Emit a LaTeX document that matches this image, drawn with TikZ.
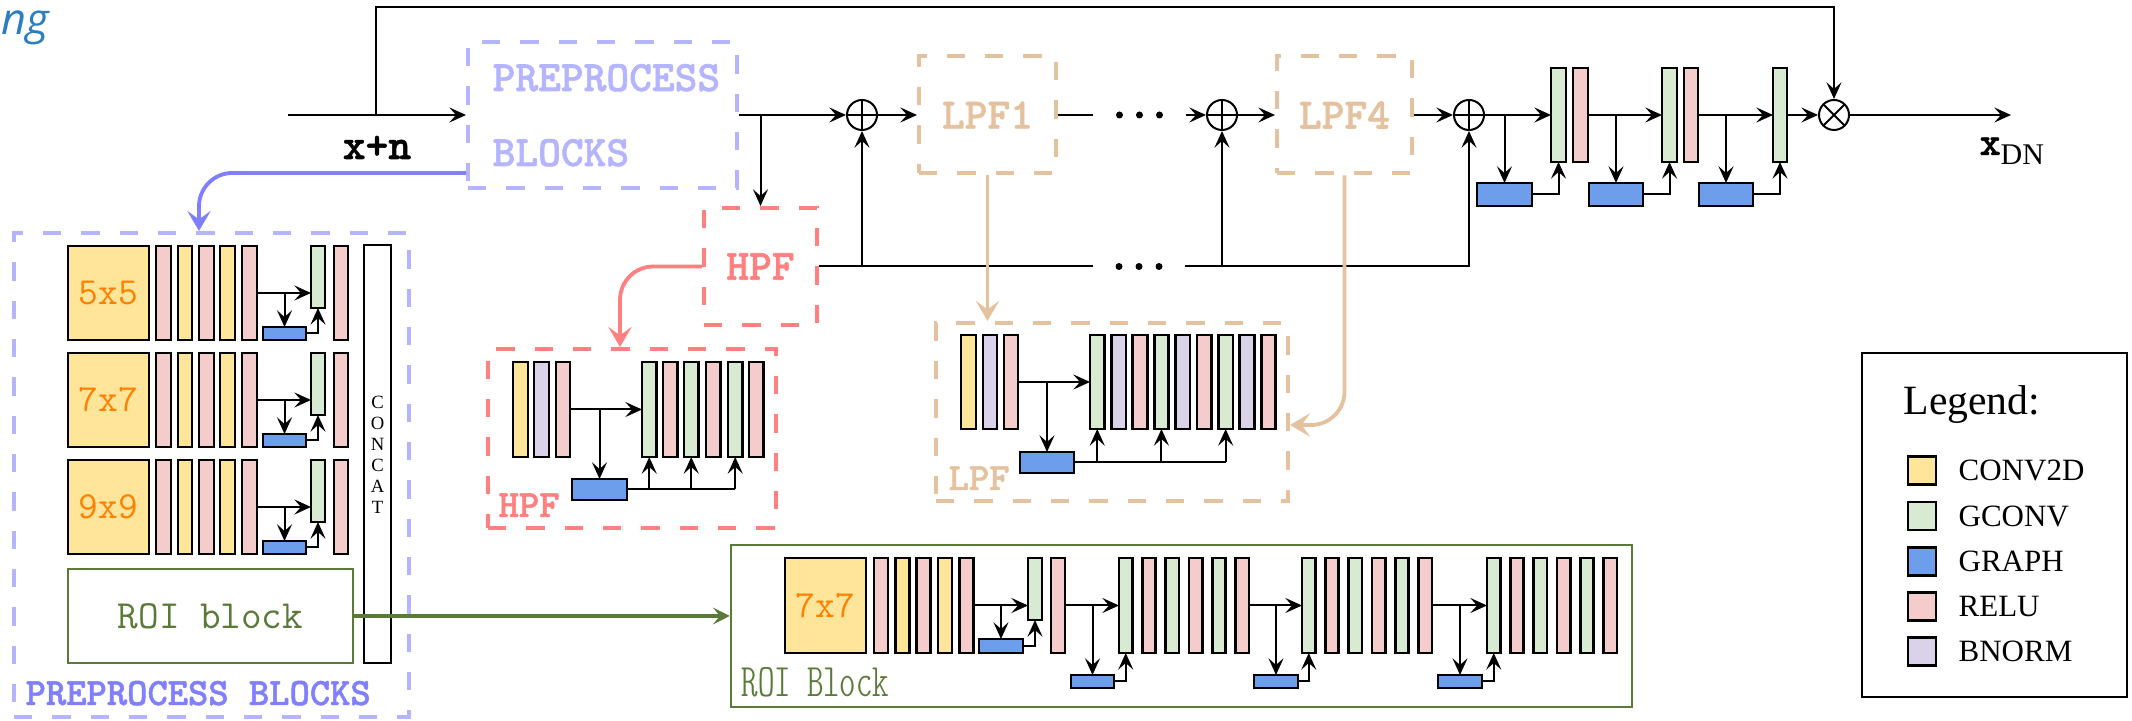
\documentclass[tikz,border=0pt]{standalone}
\usepackage{fontspec}
\newfontfamily\timesf{Liberation Serif}
\newfontfamily\ngfont{Open Sans}
\newfontfamily\heavytt{lmmonolt10-bold.otf}[FakeBold=1.3]
\usetikzlibrary{arrows.meta,fit,calc}
\definecolor{convc}{HTML}{FFE599}
\definecolor{gconvc}{HTML}{D9EAD3}
\definecolor{graphc}{HTML}{6D9EEB}
\definecolor{reluc}{HTML}{F4CCCC}
\definecolor{bnormc}{HTML}{D9D2E9}
\definecolor{prec}{HTML}{B4B4FF}
\definecolor{purc}{HTML}{8080FF}
\definecolor{hpfc}{HTML}{FF8080}
\definecolor{lpfc}{HTML}{E5C29F}
\definecolor{roic}{HTML}{5B7A3A}
\definecolor{orc}{HTML}{FF8000}
\definecolor{ngc}{HTML}{2D7DC3}
\tikzset{
  ln/.style={line width=0.6pt},
  arr/.style={ln, -{Stealth[length=5pt,width=4.5pt,inset=2pt]}},
  blkbar/.style={draw, line width=0.8pt, inner sep=0pt, outer sep=0pt},
  dbox/.style={draw, line width=1.2pt, dash pattern=on 5.5pt off 6pt, inner sep=0pt},
  fatarr/.style={line width=1.15pt, rounded corners=10pt, -{Stealth[length=6pt,width=7pt,inset=2.5pt]}},
  sumnode/.style={circle, draw, line width=0.6pt, minimum size=9pt, inner sep=0pt,
    path picture={\draw[line width=0.6pt] (path picture bounding box.north) -- (path picture bounding box.south)
      (path picture bounding box.west) -- (path picture bounding box.east);}},
  mulnode/.style={circle, draw, line width=0.6pt, minimum size=9pt, inner sep=0pt,
    path picture={\draw[line width=0.6pt] (path picture bounding box.north west) -- (path picture bounding box.south east)
      (path picture bounding box.north east) -- (path picture bounding box.south west);}},
  bigtt/.style={font=\heavytt\fontsize{13}{13}\selectfont, inner sep=0pt},
  midtt/.style={font=\heavytt\fontsize{11.6}{11.6}\selectfont, inner sep=0pt},
  convlbl/.style={font=\fontsize{11.5}{11.5}\selectfont\ttfamily, text=orc, inner sep=0pt},
}
\begin{document}
\begin{tikzpicture}[x=0.3pt,y=-0.3pt]
\useasboundingbox (0,0) rectangle (2132,721);

% corner fragment
\node[anchor=base west, inner sep=0pt, text=ngc, font=\ngfont\itshape\fontsize{13}{13}\selectfont] (ng) at (1,35) {ng};

% ---------------- top chain ----------------
\coordinate (in) at (288,115);
\coordinate (fb) at (376,115);
\coordinate (fbtop) at (376,7);
\coordinate (out) at (2011,115);
\node[dbox, draw=prec, fit={(468,42) (737,188)}] (pre) {};
\node[bigtt, text=prec, anchor=base west] (pret1) at (492,91) {PREPROCESS};
\node[bigtt, text=prec, anchor=base west] (pret2) at (492,166) {BLOCKS};
\node[bigtt, anchor=base] (xn) at (377,159) {x+n};

\node[sumnode] (add1) at (862,115) {};
\node[sumnode] (add2) at (1222,115) {};
\node[sumnode] (add3) at (1469,115) {};
\node[mulnode] (mul) at (1834,115) {};

\node[dbox, draw=lpfc, fit={(919,56.5) (1056,173.5)}] (lpf1) {};
\node[bigtt, text=lpfc] (lpf1t) at (lpf1.center) {LPF1};
\node[dbox, draw=lpfc, fit={(1277,56.5) (1412,173.5)}] (lpf4) {};
\node[bigtt, text=lpfc] (lpf4t) at (lpf4.center) {LPF4};
\node[dbox, draw=hpfc, fit={(704,208) (817,325)}] (hpf) {};
\node[bigtt, text=hpfc] (hpft) at (hpf.center) {HPF};

\node[inner sep=0pt, minimum width=27.3pt, minimum height=4pt] (dots1) at (1139.5,115) {};
\node[inner sep=0pt, minimum width=27pt, minimum height=4pt] (dots2) at (1139,266.5) {};
\foreach \dx in {-20,0,20}{
  \fill ($(dots1)+(\dx,0)$) circle (1.05pt);
  \fill ($(dots2)+(\dx,0)$) circle (1.05pt);
}

\draw[arr] (in) -- (pre.west);
\draw[arr] (fb) -- (fbtop) -| (mul.north);
\draw[arr] (pre.east) -- (add1.west);
\draw[arr] (pre.east -| hpf.north) -- (hpf.north);
\draw[arr] (add1.east) -- (lpf1.west);
\draw[ln] (lpf1.east) -- (dots1.west);
\draw[arr] (dots1.east) -- (add2.west);
\draw[arr] (add2.east) -- (lpf4.west);
\draw[arr] (lpf4.east) -- (add3.west);
\draw[ln] (hpf.east) -- (dots2.west);
\draw[arr] (dots2.east) -| (add3.south);
\draw[arr] (hpf.east -| add1.south) -- (add1.south);
\draw[arr] (dots2.east -| add2.south) -- (add2.south);

% right-hand graph layers
\node[blkbar, fill=gconvc, fit={(1551,68) (1566,162)}] (tg1) {};
\node[blkbar, fill=reluc, fit={(1573,68) (1588,162)}] (tp1) {};
\node[blkbar, fill=gconvc, fit={(1662,68) (1677,162)}] (tg2) {};
\node[blkbar, fill=reluc, fit={(1684,68) (1698,162)}] (tp2) {};
\node[blkbar, fill=gconvc, fit={(1773,68) (1787,162)}] (tg3) {};
\node[blkbar, fill=graphc, fit={(1477,183) (1532,206)}] (tgr1) {};
\node[blkbar, fill=graphc, fit={(1589,183) (1643,206)}] (tgr2) {};
\node[blkbar, fill=graphc, fit={(1699,183) (1753,206)}] (tgr3) {};
\draw[arr] (add3.east) -- (tg1.west);
\draw[arr] (add3.east -| tgr1.north) -- (tgr1.north);
\draw[arr] (tgr1.east) -| (tg1.south);
\draw[arr] (tp1.east) -- (tg2.west);
\draw[arr] (tp1.east -| tgr2.north) -- (tgr2.north);
\draw[arr] (tgr2.east) -| (tg2.south);
\draw[arr] (tp2.east) -- (tg3.west);
\draw[arr] (tp2.east -| tgr3.north) -- (tgr3.north);
\draw[arr] (tgr3.east) -| (tg3.south);
\draw[arr] (tg3.east) -- (mul.west);
\draw[arr] (mul.east) -- (out);
\node[anchor=base west, inner sep=0pt] (xdn) at (1979,155)
  {{\heavytt\fontsize{12}{12}\selectfont x}\raisebox{-3pt}{\fontsize{9}{9}\selectfont\timesf DN}};

% ---------------- preprocess blocks ----------------
\node[dbox, draw=prec, fit={(14,233) (409,717)}] (ppbox) {};
\foreach \r/\tp/\lab in {1/246/5x5,2/353/7x7,3/460/9x9}{
  \pgfmathsetmacro\ybot{\tp+94}
  \pgfmathsetmacro\ygr{\tp+62}
  \pgfmathsetmacro\ygh{\tp+81}
  \node[blkbar, fill=convc, fit={(68,\tp) (149,\ybot)}] (pc\r) {};
  \node[convlbl] (pcl\r) at (pc\r.center) {\lab};
  \node[blkbar, fill=reluc, fit={(156,\tp) (171,\ybot)}] (pa\r) {};
  \node[blkbar, fill=convc, fit={(178,\tp) (192,\ybot)}] (pb\r) {};
  \node[blkbar, fill=reluc, fit={(199,\tp) (214,\ybot)}] (pd\r) {};
  \node[blkbar, fill=convc, fit={(220,\tp) (235,\ybot)}] (pe\r) {};
  \node[blkbar, fill=reluc, fit={(242,\tp) (257,\ybot)}] (pf\r) {};
  \node[blkbar, fill=gconvc, fit={(311,\tp) (325,\ygr)}] (pg\r) {};
  \node[blkbar, fill=graphc, fit={(263,\ygh) (306,\ybot)}] (ph\r) {};
  \node[blkbar, fill=reluc, fit={(334,\tp) (348,\ybot)}] (pi\r) {};
  \draw[arr] (pf\r.east) -- (pf\r.east -| pg\r.west);
  \draw[arr] (pf\r.east -| ph\r.north) -- (ph\r.north);
  \draw[arr] (ph\r.east) -| (pg\r.south);
}
\node[blkbar, fill=white, fit={(364,245) (391,663)}] (concat) {};
\node[font=\timesf\fontsize{5.6}{6.3}\selectfont, align=center, inner sep=0pt] (concatt) at (377.5,454.5) {C\\O\\N\\C\\A\\T};
\node[draw=roic, line width=0.75pt, inner sep=0pt, fit={(68,569) (353,663)}] (roi) {};
\node[font=\fontsize{12}{12}\selectfont\ttfamily, text=roic, inner sep=0pt] (roit) at (roi.center) {ROI block};
\node[midtt, text=purc, anchor=base west] (ppt) at (25,705) {PREPROCESS BLOCKS};
\draw[fatarr, purc] ([yshift=-17.4pt]pre.west) -| ([xshift=-3.75pt]ppbox.north);

% ---------------- HPF detail ----------------
\node[dbox, draw=hpfc, fit={(488,349) (776,528)}] (hpfbox) {};
\node[blkbar, fill=convc, fit={(513,362) (528,457)}] (hy) {};
\node[blkbar, fill=bnormc, fit={(534,362) (549,457)}] (hb) {};
\node[blkbar, fill=reluc, fit={(556,362) (570,457)}] (hr) {};
\foreach \i/\xa/\c in {1/642/gconvc,2/663/reluc,3/684/gconvc,4/706/reluc,5/728/gconvc,6/749/reluc}{
  \node[blkbar, fill=\c, fit={(\xa,362) (\xa+14.5,457)}] (hq\i) {};
}
\node[blkbar, fill=graphc, fit={(572,479) (627,500)}] (hgr) {};
\draw[arr] (hr.east) -- (hq1.west);
\draw[arr] (hr.east -| hgr.north) -- (hgr.north);
\draw[ln] (hgr.east) -- (hgr.east -| hq5.south);
\foreach \i in {1,3,5}{\draw[arr] (hgr.east -| hq\i.south) -- (hq\i.south);}
\node[midtt, text=hpfc, anchor=base west] (hpflbl) at (498,517) {HPF};
\draw[fatarr, hpfc] (hpf.west) -| ([xshift=-3.6pt]hpfbox.north);

% ---------------- LPF detail ----------------
\node[dbox, draw=lpfc, fit={(936,323) (1288,501)}] (lpfbox) {};
\node[blkbar, fill=convc, fit={(961,335) (976,429)}] (ly) {};
\node[blkbar, fill=bnormc, fit={(983,335) (997,429)}] (lb) {};
\node[blkbar, fill=reluc, fit={(1004,335) (1018,429)}] (lr) {};
\foreach \i/\c in {1/gconvc,2/bnormc,3/reluc,4/gconvc,5/bnormc,6/reluc,7/gconvc,8/bnormc,9/reluc}{
  \pgfmathsetmacro\xx{1090+(\i-1)*21.4}
  \node[blkbar, fill=\c, fit={(\xx,335) (\xx+14.5,429)}] (lq\i) {};
}
\node[blkbar, fill=graphc, fit={(1020,452) (1074,473)}] (lgr) {};
\draw[arr] (lr.east) -- (lq1.west);
\draw[arr] (lr.east -| lgr.north) -- (lgr.north);
\draw[ln] (lgr.east) -- (lgr.east -| lq7.south);
\foreach \i in {1,4,7}{\draw[arr] (lgr.east -| lq\i.south) -- (lq\i.south);}
\node[midtt, text=lpfc, anchor=base west] (lpflbl) at (948,490) {LPF};
\draw[fatarr, lpfc] (lpf1.south) -- (lpf1.south |- lpfbox.north);
\draw[fatarr, lpfc] (lpf4.south) |- ([yshift=-3.9pt]lpfbox.east);

% ---------------- ROI block detail ----------------
\node[draw=roic, line width=0.75pt, inner sep=0pt, fit={(731,545) (1632,707)}] (roibig) {};
\node[blkbar, fill=convc, fit={(785,558) (866,653)}] (rc) {};
\node[convlbl] (rct) at (rc.center) {7x7};
\foreach \i/\c in {1/reluc,2/convc,3/reluc,4/convc,5/reluc}{
  \pgfmathsetmacro\xx{874+(\i-1)*21.3}
  \node[blkbar, fill=\c, fit={(\xx,558) (\xx+14,653)}] (rr\i) {};
}
\node[blkbar, fill=gconvc, fit={(1028,558) (1042,620)}] (rg0) {};
\node[blkbar, fill=reluc, fit={(1051,558) (1065,653)}] (rp0) {};
\node[blkbar, fill=graphc, fit={(979,639) (1023,653)}] (rgr0) {};
\foreach \g/\gx in {a/1119,b/1302,c/1487}{
  \foreach \i/\c in {1/gconvc,2/reluc,3/gconvc,4/reluc,5/gconvc,6/reluc}{
    \pgfmathsetmacro\xx{\gx+(\i-1)*23.3}
    \node[blkbar, fill=\c, fit={(\xx,558) (\xx+13.5,653)}] (r\g\i) {};
  }
}
\node[blkbar, fill=graphc, fit={(1071,675) (1114,688)}] (rgra) {};
\node[blkbar, fill=graphc, fit={(1254,675) (1298,688)}] (rgrb) {};
\node[blkbar, fill=graphc, fit={(1438,675) (1482,688)}] (rgrc) {};
\draw[arr] (rr5.east) -- (rg0.west |- rr5.east);
\draw[arr] (rr5.east -| rgr0.north) -- (rgr0.north);
\draw[arr] (rgr0.east) -| (rg0.south);
\draw[arr] (rp0.east) -- (ra1.west);
\draw[arr] (rp0.east -| rgra.north) -- (rgra.north);
\draw[arr] (rgra.east) -| (ra1.south);
\draw[arr] (ra6.east) -- (rb1.west);
\draw[arr] (ra6.east -| rgrb.north) -- (rgrb.north);
\draw[arr] (rgrb.east) -| (rb1.south);
\draw[arr] (rb6.east) -- (rc1.west);
\draw[arr] (rb6.east -| rgrc.north) -- (rgrc.north);
\draw[arr] (rgrc.east) -| (rc1.south);
\node[anchor=base west, inner sep=0pt, text=roic, font=\fontsize{14}{14}\selectfont\ttfamily\fontseries{lc}\selectfont] (roilbl) at (741,697) {ROI Block};
\draw[line width=1.2pt, roic, -{Stealth[length=5pt,width=5pt,inset=2pt]}] (roi.east) -- (roi.east -| roibig.west);

% ---------------- legend ----------------
\node[draw, line width=0.8pt, inner sep=0pt, fit={(1862,353) (2127,697)}] (legend) {};
\node[anchor=base west, inner sep=0pt, font=\timesf\fontsize{12.5}{12.5}\selectfont] (legt) at (1903,415) {Legend:};
\foreach \i/\c/\lab/\yy in {1/convc/CONV2D/470.5,2/gconvc/GCONV/516,3/graphc/GRAPH/561.5,4/reluc/RELU/606.5,5/bnormc/BNORM/651.5}{
  \node[blkbar, fill=\c, minimum size=8.4pt] (sw\i) at (1922,\yy) {};
  \node[anchor=west, inner sep=0pt, font=\timesf\fontsize{9.3}{9.3}\selectfont] (lt\i) at (1958,\yy) {\lab};
}
\end{tikzpicture}
\end{document}
